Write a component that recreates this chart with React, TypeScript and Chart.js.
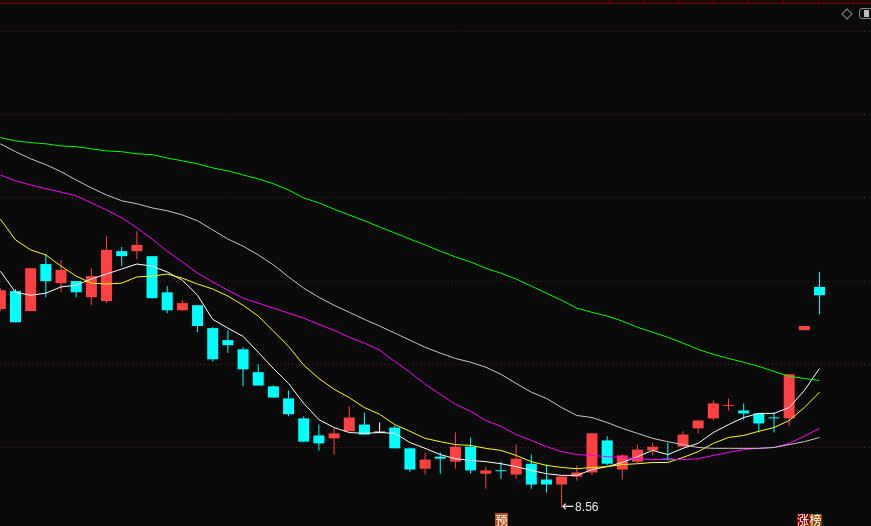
import React, { useEffect, useRef } from "react";
import { Chart, registerables } from "chart.js";

Chart.register(...registerables);

// ---- data (prices, one value per trading day) ----
const opens = [13.33,13.76,13.28,14.41,13.95,14.00,13.61,13.52,14.72,14.72,14.60,13.73,13.30,13.42,12.87,12.58,12.36,11.81,11.47,11.18,10.70,10.29,10.22,10.39,10.55,10.36,10.48,9.98,9.49,9.78,9.66,10.02,9.37,9.45,9.35,9.61,9.23,9.11,9.30,9.40,10.17,9.47,9.66,9.93,9.72,10.02,10.46,10.70,11.00,10.89,10.82,10.71,10.70,12.82,13.86];
const highs = [13.83,13.81,14.31,14.65,14.51,14.00,14.31,15.08,14.82,15.20,14.60,13.88,13.54,13.42,12.89,12.82,12.41,12.00,11.49,11.37,10.75,10.55,10.46,10.99,10.84,10.60,10.53,10.00,9.88,9.88,10.36,10.24,9.54,9.66,10.07,9.83,9.59,9.30,9.57,10.34,10.27,9.83,10.07,10.12,10.12,10.39,10.65,11.13,11.18,11.06,10.82,10.84,11.76,12.92,14.22];
const lows = [13.28,13.01,13.28,13.61,13.73,13.61,13.42,13.47,14.36,14.53,13.59,13.23,13.28,12.77,12.07,12.27,11.47,11.49,11.20,10.75,10.14,9.93,9.83,10.39,10.31,10.34,9.98,9.42,9.35,9.37,9.49,9.37,9.01,9.25,9.25,9.01,8.92,8.56,9.20,9.33,9.57,9.23,9.61,9.81,9.69,10.02,10.34,10.65,10.89,10.67,10.36,10.36,10.51,12.82,13.20];
const closes = [13.78,13.01,14.31,14.00,14.27,13.73,14.12,14.75,14.60,14.87,13.59,13.30,13.47,12.92,12.12,12.46,11.88,11.49,11.20,10.80,10.14,10.10,10.34,10.72,10.31,10.36,9.98,9.47,9.71,9.73,10.02,9.45,9.45,9.43,9.73,9.11,9.11,9.30,9.40,10.34,9.61,9.81,9.95,10.02,9.71,10.31,10.65,11.06,11.01,10.82,10.58,10.70,11.76,12.92,13.66];

const ma5 = [14.24,13.73,13.66,13.71,13.86,13.90,14.05,14.17,14.29,14.41,14.36,14.22,14.02,13.66,13.08,12.87,12.67,12.29,11.90,11.54,11.06,10.67,10.48,10.36,10.34,10.36,10.34,10.12,9.98,9.83,9.73,9.69,9.66,9.61,9.54,9.45,9.37,9.33,9.33,9.47,9.54,9.64,9.78,9.93,9.83,9.98,10.10,10.36,10.55,10.72,10.82,10.82,10.96,11.37,11.90];
const ma10 = [15.49,14.99,14.75,14.63,14.36,14.12,13.95,13.93,13.95,14.10,14.12,14.17,14.07,13.93,13.81,13.64,13.42,13.16,12.80,12.43,11.98,11.66,11.40,11.20,10.96,10.80,10.55,10.39,10.22,10.14,10.07,10.05,9.98,9.93,9.81,9.66,9.57,9.52,9.49,9.52,9.54,9.59,9.61,9.64,9.64,9.76,9.90,10.10,10.24,10.29,10.39,10.48,10.65,10.96,11.33];
const ma20 = [16.55,16.41,16.31,16.22,16.14,16.05,15.88,15.71,15.52,15.28,15.01,14.72,14.46,14.19,13.98,13.78,13.59,13.47,13.35,13.23,13.11,12.96,12.82,12.65,12.51,12.34,12.07,11.81,11.52,11.28,11.04,10.87,10.65,10.51,10.31,10.17,10.02,9.90,9.83,9.81,9.78,9.76,9.73,9.71,9.71,9.71,9.73,9.81,9.88,9.95,9.98,10.00,10.10,10.27,10.46];
const ma30 = [17.30,17.11,16.94,16.80,16.63,16.43,16.24,16.07,15.93,15.86,15.76,15.69,15.59,15.45,15.23,15.01,14.84,14.63,14.39,14.10,13.83,13.61,13.42,13.25,13.08,12.92,12.75,12.58,12.41,12.27,12.14,12.05,11.93,11.76,11.54,11.33,11.18,10.96,10.77,10.72,10.60,10.46,10.34,10.22,10.14,10.07,10.00,9.98,9.98,9.98,9.98,10.00,10.07,10.14,10.24];
const ma60 = [17.45,17.37,17.33,17.30,17.25,17.23,17.18,17.13,17.11,17.06,17.04,16.96,16.89,16.82,16.72,16.65,16.55,16.46,16.34,16.19,16.00,15.88,15.73,15.59,15.45,15.30,15.16,15.01,14.87,14.72,14.58,14.46,14.31,14.19,14.05,13.88,13.71,13.54,13.35,13.25,13.16,13.04,12.89,12.77,12.65,12.51,12.36,12.24,12.14,12.05,11.95,11.83,11.71,11.66,11.61];

const yTicks = [10, 12, 14, 16, 18, 20];
const lowMarkIndex = 37;
const preLabelIndex = 33;
const limitLabelIndex = 53;
const preLabel = "预";
const limitLabel = ["涨", "榜"];

// ---- styles ----
const UP = "#ff4040";
const DOWN = "#00ffff";
const FLAT = "#ffffff";
const BG = "#0a0a0a";
const headerTicks = [609, 643, 678, 713, 748, 783, 818, 853];

function candleColor(i: number) {
  if (closes[i] > opens[i]) return UP;
  if (closes[i] < opens[i]) return DOWN;
  return FLAT;
}

const labelPlugin = {
  id: "klabels",
  afterDatasetsDraw(chart: any) {
    const ctx = chart.ctx;
    const xs = chart.scales.x;
    const ys = chart.scales.y;
    const area = chart.chartArea;
    ctx.save();
    // lowest price marker
    const lx = xs.getPixelForValue(lowMarkIndex);
    const ly = ys.getPixelForValue(lows[lowMarkIndex]);
    ctx.fillStyle = "#e8e8e8";
    ctx.textBaseline = "middle";
    ctx.textAlign = "left";
    ctx.font = '15px "DejaVu Sans", sans-serif';
    ctx.fillText("\u2190", lx, ly);
    ctx.font = '12px "Liberation Sans", Arial, sans-serif';
    ctx.fillText(lows[lowMarkIndex].toFixed(2), lx + 13.5, ly + 0.5);

    // bottom labels
    const box = 13;
    const top = area.bottom - box;
    ctx.font = '12px "Noto Sans CJK SC", sans-serif';
    ctx.textAlign = "center";
    const px = xs.getPixelForValue(preLabelIndex);
    ctx.fillStyle = "#b8501c";
    ctx.fillRect(px - 6, top, box, box);
    ctx.fillStyle = "#ffffff";
    ctx.fillText(preLabel, px + 0.5, top + box / 2 + 0.5);

    const zx = xs.getPixelForValue(limitLabelIndex) - 7.5;
    const bgs = ["#820000", "#8c4a00"];
    limitLabel.forEach((t, k) => {
      ctx.fillStyle = bgs[k];
      ctx.fillRect(zx + k * 12.5, top + 1, 12.5, box - 1);
      ctx.fillStyle = "#ffffff";
      ctx.fillText(t, zx + k * 12.5 + 6.25, top + box / 2 + 1);
    });
    ctx.restore();
  },
};

export default function App() {
  const ref = useRef<HTMLCanvasElement | null>(null);

  useEffect(() => {
    if (!ref.current) return;
    const colors = opens.map((_, i) => candleColor(i));
    const wickData = opens.map((_, i) => ({ x: i, y: [lows[i], highs[i]] }));
    const bodyData = opens.map((_, i) => ({ x: i, y: [opens[i], closes[i]] }));
    const line = (vals: number[], color: string) => ({
      type: "line" as const,
      data: vals.map((v, i) => ({ x: i, y: v })),
      borderColor: color,
      borderWidth: 1,
      pointRadius: 0,
      fill: false,
      tension: 0,
      order: 0,
    });

    const chart = new Chart(ref.current, {
      type: "bar",
      data: {
        datasets: [
          {
            type: "bar",
            data: wickData as any,
            backgroundColor: colors,
            barThickness: 1,
            grouped: false,
            borderWidth: 0,
            inflateAmount: 0,
            order: 3,
          } as any,
          {
            type: "bar",
            data: bodyData as any,
            backgroundColor: colors,
            barThickness: 11,
            grouped: false,
            borderWidth: 0,
            minBarLength: 1,
            inflateAmount: 0,
            order: 2,
          } as any,
          line(ma60, "#00ff00"),
          line(ma30, "#c8c8c8"),
          line(ma20, "#ff00ff"),
          line(ma10, "#ffff00"),
          line(ma5, "#ffffff"),
        ],
      },
      options: {
        responsive: false,
        animation: false,
        maintainAspectRatio: false,
        layout: { padding: 0 },
        plugins: { legend: { display: false }, tooltip: { enabled: false } },
        scales: {
          x: {
            type: "linear",
            display: false,
            offset: false,
            grid: { offset: false },
            min: -0.022,
            max: 57.394,
          },
          y: {
            type: "linear",
            min: 8.113,
            max: 20.757,
            afterBuildTicks: (scale: any) => {
              scale.ticks = yTicks.map((v) => ({ value: v }));
            },
            ticks: { display: false },
            grid: { color: "#5e1c1c", lineWidth: 1, drawTicks: false, tickLength: 0 },
            border: { display: false, dash: [1, 3] },
          },
        },
      } as any,
      plugins: [labelPlugin],
    });
    return () => chart.destroy();
  }, []);

  return (
    <div
      style={{
        position: "fixed",
        left: 0,
        top: 0,
        width: 871,
        height: 526,
        background: BG,
        overflow: "hidden",
      }}
    >
      <canvas ref={ref} width={871} height={526} style={{ position: "absolute", left: 0, top: 0, width: 871, height: 526 }} />
      <div style={{ position: "absolute", left: 0, top: 0, width: 871, height: 3, background: "#1c0707" }} />
      <div style={{ position: "absolute", left: 0, top: 3, width: 871, height: 1, background: "#7a0000" }} />
      {headerTicks.map((x) => (
        <div key={x} style={{ position: "absolute", left: x, top: 0, width: 1, height: 3, background: "#7a0000" }} />
      ))}
      <div
        style={{
          position: "absolute",
          left: 842.5,
          top: 9.5,
          width: 6,
          height: 6,
          border: "1px solid #8c8c8c",
          transform: "rotate(45deg)",
        }}
      />
      <div
        style={{
          position: "absolute",
          left: 859,
          top: 8,
          width: 14,
          height: 11,
          boxSizing: "border-box",
          border: "1px solid #8c8c8c",
          borderRadius: 3,
        }}
      >
        <div style={{ position: "absolute", left: 4, top: 1, width: 5, height: 7, background: "#bdbdbd" }} />
      </div>
    </div>
  );
}
